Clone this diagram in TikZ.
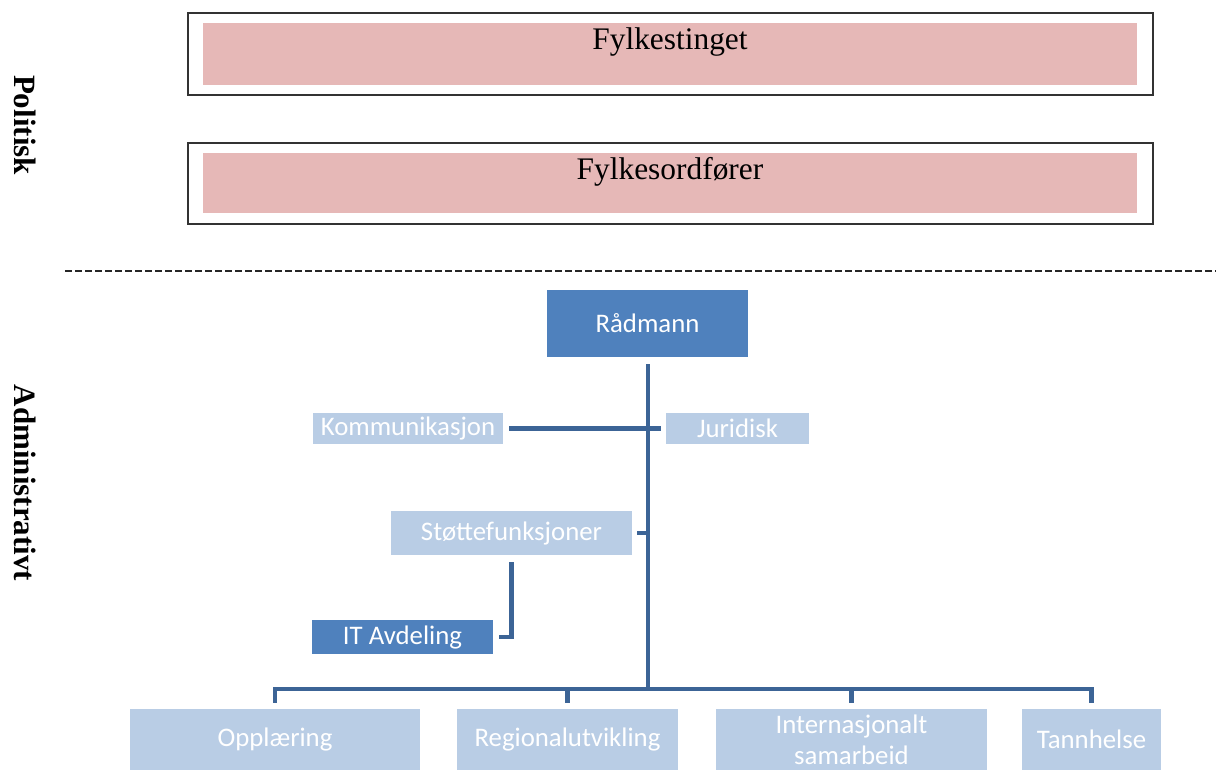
\documentclass[tikz,border=0pt]{standalone}
\usepackage{fontspec}
\setmainfont{Liberation Serif}
\setsansfont{Carlito}
\usetikzlibrary{positioning}
\definecolor{rosa}{HTML}{E6B8B7}
\definecolor{morkbla}{HTML}{4F81BD}
\definecolor{lysbla}{HTML}{B9CDE5}
\definecolor{strek}{HTML}{3C6496}
\begin{document}
\begin{tikzpicture}[x=0.5pt, y=-0.5pt,
	ramme/.style={draw=black!80, line width=0.8pt, minimum width=482.5pt, inner sep=0pt},
	pol/.style={fill=rosa, minimum width=467pt, inner sep=0pt, text height=10pt,
		font=\fontsize{15.7}{18}\selectfont},
	side/.style={rotate=-90, font=\fontsize{15.5}{18}\selectfont\bfseries},
	leder/.style={fill=morkbla, text=white, inner sep=0pt, font=\sffamily\fontsize{13.4}{15.5}\selectfont},
	stab/.style={fill=lysbla, text=white, inner sep=0pt, align=center, font=\sffamily\fontsize{13.4}{15.5}\selectfont},
	link/.style={draw=strek, line width=2.4pt}]
	\useasboundingbox (0,0) rectangle (1216,770);
	% politisk nivaa
	\node[ramme, minimum height=41pt] (r1) at (670.5, 54) {};
	\node[pol, minimum height=31pt, text depth=14pt] (ting) at (670, 54) {Fylkestinget};
	\node[ramme, minimum height=40.5pt] (r2) at (670.5, 183.5) {};
	\node[pol, minimum height=30pt, text depth=13pt] (ordf) at (670, 183) {Fylkesordfører};
	\node[side] (pol) at (25, 125) {Politisk};
	\node[side] (adm) at (25, 483) {Administrativt};
	\coordinate (dl) at (65, 271);
	\coordinate (dr) at (1216, 271);
	\draw[black!85, line width=0.6pt, dash pattern=on 3.5pt off 1.5pt] (dl) -- (dr);
	% administrativt nivaa
	\node[leder, minimum width=100.5pt, minimum height=33.5pt] (rad) at (647.5, 323.5) {Rådmann};
	\node[stab, minimum width=95pt, minimum height=15.5pt] (kom) at (408, 428.5) {Kommunikasjon};
	\node[stab, minimum width=71.5pt, minimum height=15.5pt] (jur) at (737.5, 428.5) {Juridisk};
	\node[stab, minimum width=120.5pt, minimum height=22pt] (stotte) at (511.5, 533) {Støttefunksjoner};
	\node[leder, minimum width=90.5pt, minimum height=17pt] (it) at (402.5, 637) {IT Avdeling};
	\node[stab, minimum width=145pt, minimum height=30.5pt] (opp) at (275, 739.5) {Opplæring};
	\node[stab, minimum width=110.5pt, minimum height=30.5pt] (reg) at (567.5, 739.5) {Regionalutvikling};
	\node[stab, minimum width=135.5pt, minimum height=30.5pt] (int) at (851.5, 739.5) {Internasjonalt\\samarbeid};
	\node[stab, minimum width=69.5pt, minimum height=30.5pt] (tan) at (1091.5, 739.5) {Tannhelse};
	\coordinate (bus) at (648, 689);
	\draw[link] ([xshift=0.25pt, yshift=-3.5pt]rad.south) -- (bus);
	\draw[link] ([xshift=3pt]kom.east) -- ([xshift=-2.5pt]jur.west);
	\draw[link] ([xshift=2.5pt]stotte.east) -- (stotte.east -| bus);
	\draw[link] ([yshift=-3.5pt]stotte.south) |- ([xshift=3pt]it.east);
	\draw[link] ([yshift=3pt]opp.north) |- (bus) -| ([yshift=3pt]tan.north);
	\draw[link] ([yshift=3pt]reg.north) -- (reg.north |- bus);
	\draw[link] ([yshift=3pt]int.north) -- (int.north |- bus);
\end{tikzpicture}
\end{document}
